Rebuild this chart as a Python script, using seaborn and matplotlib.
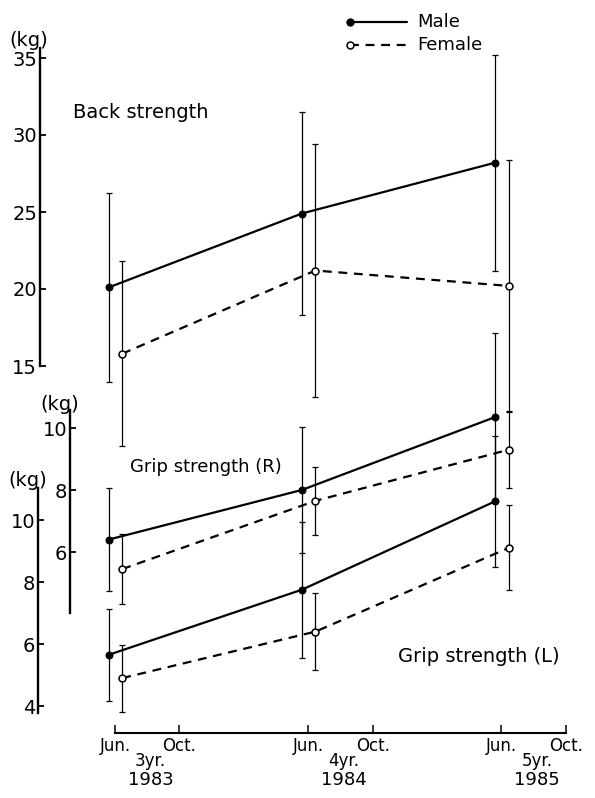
import matplotlib
matplotlib.use("Agg")
import matplotlib.pyplot as plt
import matplotlib.transforms as mtransforms
from matplotlib.lines import Line2D
import seaborn as sns
import pandas as pd

sns.set_theme(style="white")
plt.rcParams['font.family'] = ['DejaVu Sans']
plt.rcParams['text.color'] = 'black'

# ---------------- data ----------------
survey_months = [0, 12, 24]          # months after June 1983
x_tick_months = [0, 4, 12, 16, 24, 28]
x_tick_labels = ["Jun.", "Oct.", "Jun.", "Oct.", "Jun.", "Oct."]
age_labels = ["3yr.", "4yr.", "5yr."]
year_labels = ["1983", "1984", "1985"]

back_male_mean = [20.1, 24.9, 28.2]
back_male_sd = [6.15, 6.6, 7.0]
back_female_mean = [15.8, 21.2, 20.2]
back_female_sd = [6.0, 8.2, 8.2]

gripR_male_mean = [6.4, 8.0, 10.35]
gripR_male_sd = [1.67, 2.03, 2.7]
gripR_female_mean = [5.45, 7.65, 9.3]
gripR_female_sd = [1.12, 1.1, 1.25]

gripL_male_mean = [5.65, 7.75, 10.6]
gripL_male_sd = [1.48, 2.2, 2.1]
gripL_female_mean = [4.9, 6.4, 9.1]
gripL_female_sd = [1.08, 1.25, 1.37]

back_ticks = [15, 20, 25, 30, 35]
gripR_ticks = [6, 8, 10]
gripL_ticks = [4, 6, 8, 10]

# ---------------- layout helpers ----------------
W, H = 595, 798
fig = plt.figure(figsize=(W / 100, H / 100), dpi=100)


def fx(x):
    return x / W


def fy(y):
    return 1 - y / H


def px_rect(l, t, r, b):
    return [l / W, 1 - b / H, (r - l) / W, (b - t) / H]


rect = px_rect(40, 40, 580, 733)
ax_b = fig.add_axes(rect)
ax_r = fig.add_axes(rect, sharex=ax_b)
ax_l = fig.add_axes(rect, sharex=ax_b)

male_off, female_off = -0.4, 0.45
LW = 1.6
DASH = (0, (4, 3))


def draw(ax, mm, ms, fm, fs):
    xm = [m + male_off for m in survey_months]
    xf = [m + female_off for m in survey_months]
    ax.errorbar(xm, mm, yerr=ms, fmt='none', ecolor='black', elinewidth=0.9,
                capsize=2.5, capthick=0.9, zorder=1, clip_on=False)
    ax.errorbar(xf, fm, yerr=fs, fmt='none', ecolor='black', elinewidth=0.9,
                capsize=2.5, capthick=0.9, zorder=1, clip_on=False)
    dfm = pd.DataFrame({"month": xm, "value": mm})
    dff = pd.DataFrame({"month": xf, "value": fm})
    sns.lineplot(data=dfm, x="month", y="value", ax=ax, color="black",
                 marker="o", markersize=5, markerfacecolor="black",
                 markeredgecolor="black", linewidth=LW, errorbar=None,
                 zorder=3, clip_on=False)
    sns.lineplot(data=dff, x="month", y="value", ax=ax, color="black",
                 marker="o", markersize=5, markerfacecolor="white",
                 markeredgecolor="black", markeredgewidth=1.1,
                 linewidth=LW, linestyle=DASH, errorbar=None,
                 zorder=3, clip_on=False)
    ax.set_xlabel("")
    ax.set_ylabel("")


draw(ax_b, back_male_mean, back_male_sd, back_female_mean, back_female_sd)
draw(ax_r, gripR_male_mean, gripR_male_sd, gripR_female_mean, gripR_female_sd)
draw(ax_l, gripL_male_mean, gripL_male_sd, gripL_female_mean, gripL_female_sd)

# x mapping: pixel 115 = month 0, 16.1 px per month
ax_b.set_xlim((40 - 115) / 16.1, (580 - 115) / 16.1)
# y ranges so that the pixel positions match the reference
ax_b.set_ylim(20 - 444 / 15.4, 20 + 249 / 15.4)
ax_r.set_ylim(10 - 305 / 31.0, 10 + 388 / 31.0)
ax_l.set_ylim(10 - 213 / 31.0, 10 + 480 / 31.0)

for ax in (ax_b, ax_r, ax_l):
    ax.set_facecolor('none')
    ax.grid(False)
    for s in ax.spines.values():
        s.set_visible(False)
    ax.spines['left'].set_visible(True)
    ax.spines['left'].set_linewidth(1.7)
    ax.spines['left'].set_color('black')
    ax.tick_params(axis='y', direction='in', length=4, width=1.3,
                   colors='black', labelsize=14, pad=2, left=True)

ax_b.spines['left'].set_bounds(15, 20 + 241 / 15.4)
ax_b.set_yticks(back_ticks)
ax_b.set_yticklabels([str(t) for t in back_ticks])

ax_r.spines['left'].set_position(('axes', 30 / 540))
ax_r.spines['left'].set_bounds(10 - 185 / 31.0, 10 + 18 / 31.0)
ax_r.set_yticks(gripR_ticks)
ax_r.set_yticklabels([str(t) for t in gripR_ticks])

ax_l.spines['left'].set_position(('axes', -2 / 540))
ax_l.spines['left'].set_bounds(10 - 193 / 31.0, 10 + 32 / 31.0)
ax_l.set_yticks(gripL_ticks)
ax_l.set_yticklabels([str(t) for t in gripL_ticks])

# x axis on back-strength axes
ax_b.spines['bottom'].set_visible(True)
ax_b.spines['bottom'].set_linewidth(1.5)
ax_b.spines['bottom'].set_color('black')
ax_b.spines['bottom'].set_bounds(0, 28)
ax_b.set_xticks(x_tick_months)
ax_b.set_xticklabels(x_tick_labels)
ax_b.tick_params(axis='x', direction='in', length=6, width=1.1,
                 colors='black', labelsize=12, pad=3, bottom=True)
for ax in (ax_r, ax_l):
    ax.tick_params(axis='x', bottom=False, labelbottom=False)

trans = mtransforms.blended_transform_factory(ax_b.transData, fig.transFigure)
for m, a, yr in zip(survey_months, age_labels, year_labels):
    ax_b.text(m + 2.2, fy(761), a, transform=trans, ha='center', va='center',
              fontsize=12, color='black')
    ax_b.text(m + 2.2, fy(780), yr, transform=trans, ha='center', va='center',
              fontsize=13, color='black')

# unit labels
fig.text(fx(29), fy(40), "(kg)", ha='center', va='center', fontsize=14, color='black')
fig.text(fx(60), fy(404), "(kg)", ha='center', va='center', fontsize=14, color='black')
fig.text(fx(28), fy(480), "(kg)", ha='center', va='center', fontsize=14, color='black')

# panel titles
fig.text(fx(73), fy(113), "Back strength", ha='left', va='center', fontsize=14, color='black')
fig.text(fx(130), fy(467), "Grip strength (R)", ha='left', va='center', fontsize=13, color='black')
fig.text(fx(398), fy(656), "Grip strength (L)", ha='left', va='center', fontsize=14, color='black')

# legend (drawn in figure pixels)
fig.add_artist(Line2D([fx(350), fx(407)], [fy(22), fy(22)], color='black',
                      lw=LW, transform=fig.transFigure))
fig.add_artist(Line2D([fx(350)], [fy(22)], color='black', marker='o',
                      markersize=5, transform=fig.transFigure))
fig.add_artist(Line2D([fx(350), fx(407)], [fy(45), fy(45)], color='black',
                      lw=LW, linestyle=DASH, transform=fig.transFigure))
fig.add_artist(Line2D([fx(350)], [fy(45)], color='black', marker='o',
                      markersize=5, markerfacecolor='white',
                      markeredgewidth=1.1, transform=fig.transFigure))
fig.text(fx(417), fy(22), "Male", ha='left', va='center', fontsize=13, color='black')
fig.text(fx(417), fy(45), "Female", ha='left', va='center', fontsize=13, color='black')

fig.savefig("out.png", dpi=100, facecolor='white')
